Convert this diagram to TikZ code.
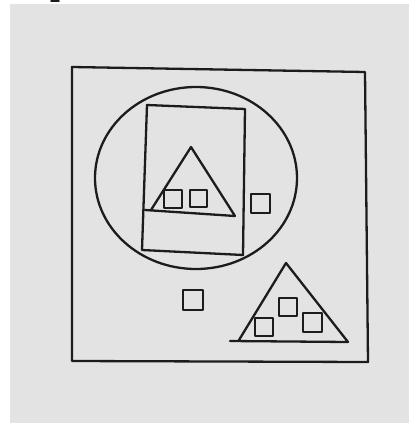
\documentclass[tikz,border=0pt]{standalone}
\usepackage{fontspec}
\newfontfamily\typefont{Liberation Mono}
\usepackage{xcolor}
\definecolor{paper}{RGB}{227,227,227}
\definecolor{ink}{RGB}{28,28,28}
\tikzset{pen/.style={ink, line width=2.3pt, line join=round, line cap=round}}

\begin{document}
\begin{tikzpicture}[x=1pt, y=-1pt]
    \useasboundingbox (0,0) rectangle (409,423);
    \fill[paper] (10,4) rectangle (409,423);
    \node[ink, inner sep=0pt, anchor=base, font=\typefont\bfseries\fontsize{20}{20}\selectfont] (mark) at (55,2.5) {I};
    % outer frame
    \draw[pen] (72,67) -- (365,72) -- (368,362) -- (72,361) -- cycle;
    \draw[pen] (196,178) ellipse [x radius=101, y radius=91];
    % tall box and its triangle
    \draw[pen] (147,105) -- (245,109) -- (243,255) -- (142,250) -- cycle;
    \draw[pen] (145,210) -- (235,216) -- (191,147) -- (151,210);
    % lower triangle
    \draw[pen] (230,341) -- (348,342) -- (286,263) -- (239,340);
    % small squares
    \foreach \x/\y/\s in {164/190/18, 190/190/17, 251/194/19, 183/290/20,
                          255/318/18, 279/298/18, 303/313/19}
      \draw[pen] (\x,\y) rectangle ++(\s,\s);
\end{tikzpicture}
\end{document}
